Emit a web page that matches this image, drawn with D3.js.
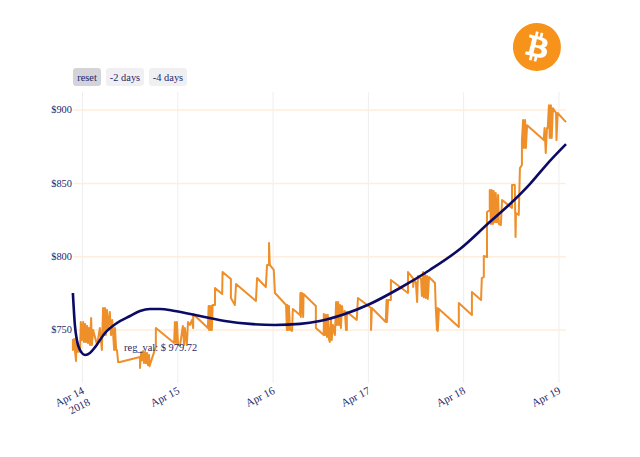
<!DOCTYPE html>
<html>
<head>
<meta charset="utf-8">
<script src="https://cdn.jsdelivr.net/npm/d3@7"></script>
<style>
html, body { margin: 0; padding: 0; background: #fff; }
svg { display: block; }
text { font-family: "Liberation Serif", serif; font-size: 10.4px; fill: #1f1f6b; }
text.xlab { font-size: 11px; }
</style>
</head>
<body>
<svg width="640" height="457"></svg>
<script>
// DATA, hours since Apr 14 00:00 UTC
var priceHours = [-2.3,-2.3,-2.0,-1.8,-1.5,-1.4,-1.0,-0.8,-0.5,-0.3,0,0.3,0.5,0.8,1.0,1.3,1.5,1.8,2.0,2.3,2.5,2.8,3.8,4.5,5.0,5.3,5.5,5.8,6.0,6.3,6.5,7.0,7.3,7.6,8.1,8.3,8.6,8.8,9.1,9.6,14.6,
	14.6,14.9,15.1,15.4,15.6,15.9,16.1,16.4,16.6,16.9,17.0,18.6,18.6,23.2,23.4,23.7,23.9,24.2,24.7,25.4,25.7,25.9,26.4,26.7,27.2,27.7,28.0,28.0,31.7,
	31.9,32.0,32.2,32.4,32.6,32.7,32.9,33.5,33.5,35.3,35.4,37.5,37.5,38.5,38.8,43.8,44.1,46.3,46.6,47.1,47.1,47.3,48.3,48.6,51.4,
	51.6,51.7,51.9,52.1,52.4,52.6,52.9,53.1,54.9,55.0,55.1,55.4,55.7,55.8,58.9,58.9,60.9,60.9,61.2,61.4,61.7,61.9,62.2,62.4,62.7,62.9,63.2,63.7,64.0,64.2,64.5,64.7,65.0,65.2,65.5,65.7,66.2,66.5,66.7,66.7,69.2,69.5,
	72.8,72.8,73.0,76.5,76.7,76.8,77.1,77.8,77.8,82.1,82.1,83.4,83.4,83.6,84.1,84.4,84.6,85.4,85.6,85.9,86.1,86.4,86.6,86.9,87.1,87.4,88.9,89.1,89.4,89.6,89.6,89.9,94.9,94.9,98.2,98.2,100.5,100.7,101.2,101.2,102.0,102.0,102.7,102.7,
	103.0,103.2,103.5,103.7,104.0,104.2,104.5,104.8,105.0,105.5,105.8,108.3,108.3,109.0,109.2,109.3,110.0,110.3,110.8,110.8,111.1,111.3,111.6,111.8,112.1,116.3,116.5,116.8,117.1,117.3,117.6,117.8,118.1,118.3,118.6,119.4,119.5,119.8,121.9];
var prices = [743.5,736,743.5,736,728.5,744.2,734.7,739.4,734.7,755.1,742.8,755.1,741.5,753.8,741.5,752.4,740.8,751,739.4,757.8,739.4,749.7,739.4,751,736,764.7,746.2,764.7,746.2,763.3,749.7,762,746.2,756.5,736,751,736,736,727.8,727.8,731.2,
	723.7,734.7,729,735.4,727.2,734.7,727.1,734,725.8,732.6,725,738.3,751,740.8,755.1,740.8,755.1,739.4,739.4,752.4,739.4,751,739.4,755.1,753.1,756.5,751,760.6,751,
	766,749.7,766,749.7,766,749.7,766.7,766.7,778.3,774.2,789.2,784.4,771.5,766.7,781,769.4,785.1,779,794,794,809,794,790.6,774.9,766.7,
	749.7,766.7,749.7,766,749.7,749.7,749,764,759.9,774.9,758.5,774.9,758.5,774.2,766,751,746.2,760.6,746.2,760,744.9,760,743.5,741.5,757.8,742.8,753.1,746.2,768.8,753.1,768.8,753.1,766.7,751,766,759.9,762.6,749.7,749.7,762,756.5,771.5,
	764.7,749.7,764.7,755.1,770.1,755.1,770.1,770.1,783.8,774.9,789.2,784.8,779,784.4,781.7,768.8,786.5,784.4,772.8,789.2,772,787.9,771.5,786.5,770.8,785.8,781.7,764.7,749.7,764.7,749,764,751.7,768,759.9,775.6,770.1,785.1,785.8,800.1,799.4,830.1,831.5,845.1,
	821.9,845.1,821.9,844.5,823.2,843.1,823.2,841.7,821.9,821.3,838.3,832.9,848.5,848.5,813.1,829.4,828.1,860.1,862.2,879.2,892.9,873.8,892.9,873.8,889.4,879.2,887.4,870.4,887.4,887.4,903,880.6,903,880.6,901,897.7,879.2,897.7,891.5];
var regHours = [-2.3,-1.8,-1.3,-0.5,0.8,2,3.3,5.8,8.8,12.1,14.6,17.1,19.6,23.4,29.7,36,42.3,48.6,54.9,59.9,66.2,72.5,80.1,87.6,95.2,102.7,107.8,112.8,117.8,121.9];
var regValues = [774.9,753.1,742.8,736,732.6,734,738,747.6,754.4,759.2,762.6,764,764,762.6,759.2,755.8,753.8,753.1,753.8,755.8,760.6,767.4,778.3,790.6,804.9,823.3,835.6,849.2,864.9,876.5];
var priceTicks = [750, 800, 850, 900];
var buttonLabels = ["reset", "-2 days", "-4 days"];
var annotation = "reg_val: $ 979.72";

var start = Date.UTC(2018, 3, 14);
function toDate(h) { return new Date(start + h * 3600000); }

var svg = d3.select("svg");

// SCALES
var x = d3.scaleUtc().domain([toDate(-2.27), toDate(121.9)]).range([73, 566]);
var y = d3.scaleLinear().domain([713.5, 912]).range([383, 92]);

// GRID + AXES
var xAxis = d3.axisBottom(x).ticks(d3.utcDay.every(1)).tickSize(-291).tickFormat("");
var xg = svg.append("g").attr("transform", "translate(0,383)").call(xAxis);
xg.select(".domain").remove();
xg.selectAll("line").attr("stroke", "#eeeeee");

var yAxis = d3.axisLeft(y).tickValues(priceTicks).tickSize(-493).tickPadding(1).tickFormat((d)=>"$" + d);
var yg = svg.append("g").attr("transform", "translate(73,0)").call(yAxis);
yg.select(".domain").remove();
yg.selectAll("line").attr("stroke", "#ffeedb").attr("stroke-width", 1.5);
yg.selectAll("text").attr("font-family", null).attr("font-size", null);

// x labels, rotated by hand because of the year line under the first one
var labelFmt = d3.utcFormat("%b %-d");
var xLabels = svg.append("g").selectAll("g")
.data(x.ticks(d3.utcDay.every(1)))
.enter()
.append("g")
.attr("transform", (d)=>"translate(" + (x(d) + 3) + ",393) rotate(-27)");

xLabels.append("text")
.attr("class", "xlab")
.attr("text-anchor", "end")
.text(labelFmt);

xLabels.filter((d,i)=>i==0)
.append("text")
.attr("class", "xlab")
.attr("text-anchor", "end")
.attr("y", 13)
.attr("x", 0)
.text("2018");

// LINES
var priceLine = d3.line()
.x((d,i)=>x(toDate(priceHours[i])))
.y((d,i)=>y(prices[i]));

svg.append("path")
.attr("d", priceLine(prices))
.attr("fill", "none")
.attr("stroke", "#ee8f2a")
.attr("stroke-width", 2)
.attr("stroke-linejoin", "round");

var regLine = d3.line()
.x((d,i)=>x(toDate(regHours[i])))
.y((d,i)=>y(regValues[i]))
.curve(d3.curveMonotoneX);

svg.append("path")
.attr("d", regLine(regValues))
.attr("fill", "none")
.attr("stroke", "#0b0b66")
.attr("stroke-width", 2.6);

svg.append("text")
.attr("x", x(toDate(10.6)))
.attr("y", y(735))
.text(annotation);

// BUTTONS
var buttonX = d3.scaleOrdinal().domain(buttonLabels).range([73, 106, 149]);
var buttonW = d3.scaleOrdinal().domain(buttonLabels).range([28, 38, 38]);
var buttons = svg.append("g").selectAll("g")
.data(buttonLabels)
.enter()
.append("g")
.attr("transform", (d)=>"translate(" + buttonX(d) + ",68)");

buttons.append("rect")
.attr("width", (d)=>buttonW(d))
.attr("height", 18)
.attr("rx", 3)
.attr("fill", (d,i)=>i==0 ? "#d4d4d8" : "#f0f0f2");

buttons.append("text")
.attr("x", (d)=>buttonW(d)/2)
.attr("y", 12.5)
.attr("text-anchor", "middle")
.text((d)=>d);

// LOGO
var logo = svg.append("g").attr("transform", "translate(513,23) scale(0.75)");
logo.append("path")
.attr("fill", "#f7931a")
.attr("d", "M63.04 39.741c-4.274 17.143-21.638 27.575-38.783 23.301C7.12 58.768-3.313 41.404.962 24.262 5.234 7.117 22.597-3.317 39.737.957c17.144 4.274 27.576 21.64 23.302 38.784z");
logo.append("path")
.attr("fill", "#fff")
.attr("d", "M46.11 27.441c.636-4.258-2.606-6.547-7.039-8.074l1.438-5.768-3.512-.875-1.4 5.616c-.922-.23-1.87-.447-2.812-.662l1.41-5.653-3.509-.875-1.439 5.766c-.764-.174-1.514-.346-2.242-.527l.004-.018-4.842-1.209-.934 3.75s2.605.597 2.55.634c1.422.355 1.68 1.296 1.636 2.042l-1.638 6.571c.098.025.225.061.365.117l-.37-.092-2.297 9.205c-.174.432-.615 1.08-1.609.834.035.051-2.552-.637-2.552-.637l-1.743 4.02 4.57 1.139c.85.213 1.683.436 2.502.646l-1.453 5.835 3.507.875 1.44-5.772c.957.26 1.887.5 2.797.726L27.504 50.8l3.511.875 1.453-5.823c5.987 1.133 10.49.676 12.383-4.738 1.527-4.36-.075-6.875-3.225-8.516 2.294-.531 4.022-2.04 4.483-5.157zM38.087 38.69c-1.086 4.36-8.426 2.004-10.807 1.412l1.928-7.729c2.38.594 10.011 1.77 8.88 6.317zm1.085-11.312c-.99 3.966-7.1 1.951-9.083 1.457l1.748-7.01c1.983.494 8.367 1.416 7.335 5.553z");
</script>
</body>
</html>
